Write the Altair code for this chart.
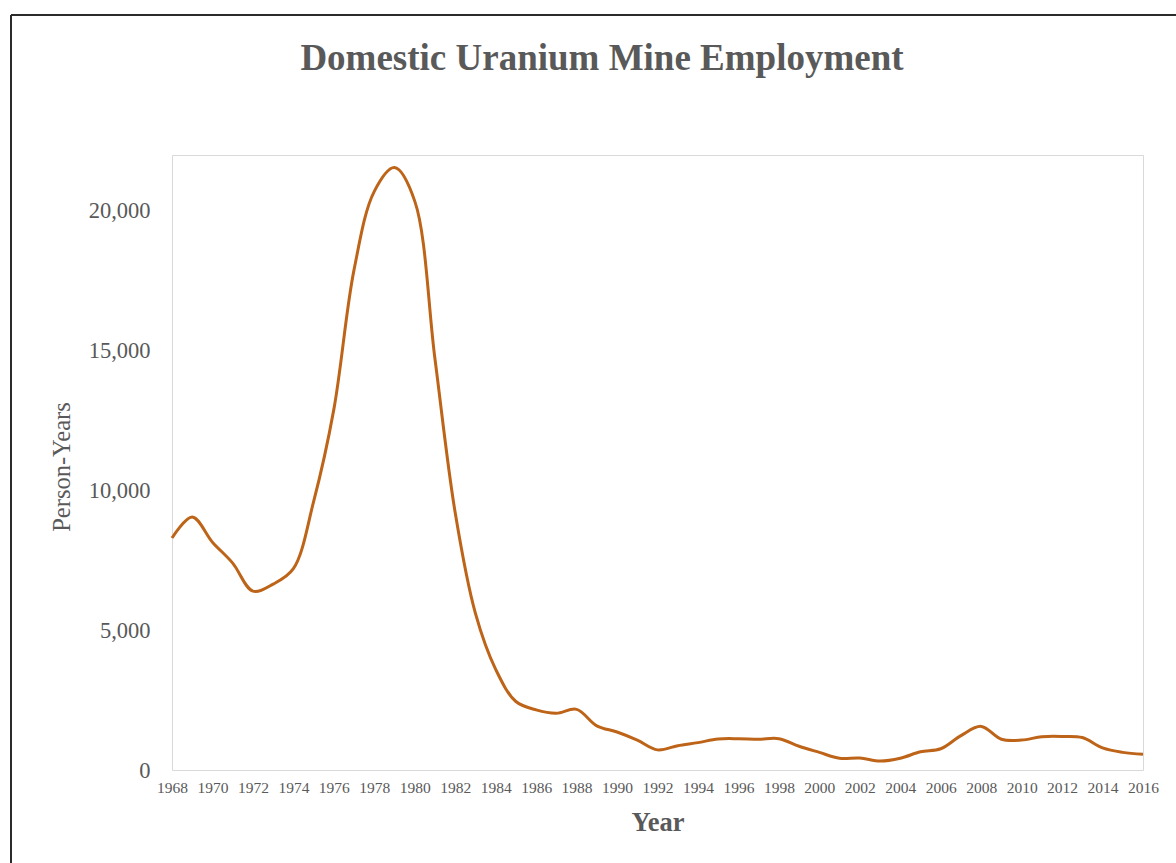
import altair as alt
import pandas as pd

# Domestic uranium mine employment, person-years per year
years = list(range(1968, 2017))
person_years = [
    8300, 9050, 8150, 7400, 6400, 6650, 7200, 9600, 12900, 17900,
    20700, 21550, 20350, 14700, 9200, 5600, 3600, 2450, 2150, 2030,
    2170, 1580, 1360, 1070, 720, 870, 980, 1110, 1120, 1100,
    1120, 850, 630, 420, 430, 320, 420, 650, 760, 1230,
    1560, 1100, 1070, 1190, 1200, 1160, 790, 630, 560,
]
x_ticks = list(range(1968, 2017, 2))
y_ticks = [0, 5000, 10000, 15000, 20000]
chart_title = "Domestic Uranium Mine Employment"

df = pd.DataFrame({"Year": years, "Employment": person_years})

SERIF = "Liberation Serif"
GREY = "#595959"

PLOT_W, PLOT_H = 971, 615
PAD_L, PAD_T = 172, 155

line = alt.Chart(df).mark_line(
    color="#bd6418", strokeWidth=3, interpolate="catmull-rom"
).encode(
    x=alt.X(
        "Year:Q",
        scale=alt.Scale(domain=[1968, 2016], nice=False, zero=False),
        axis=alt.Axis(
            values=x_ticks, format="d", title="Year",
            labelFont=SERIF, labelFontSize=15.5, labelColor=GREY,
            labelPadding=10, labelFlush=False, ticks=False, domain=False, grid=False,
            titleFont=SERIF, titleFontSize=26.5, titleFontWeight="bold", titleColor=GREY,
            titleX=PLOT_W / 2, titleY=52, titleBaseline="middle",
        ),
    ),
    y=alt.Y(
        "Employment:Q",
        scale=alt.Scale(domain=[0, 22000], nice=False),
        axis=alt.Axis(
            values=y_ticks, format=",d", title="Person-Years",
            labelFont=SERIF, labelFontSize=22.5, labelColor=GREY,
            labelPadding=22, ticks=False, domain=False, grid=False,
            titleFont=SERIF, titleFontSize=24.5, titleFontWeight="normal", titleColor=GREY,
            titleX=-110, titleY=PLOT_H / 2 + 4, titleAlign="center", titleBaseline="middle",
            titleAngle=270,
        ),
    ),
)

single = pd.DataFrame({"label": [chart_title]})

# Chart heading, placed above the plot area
heading = alt.Chart(single).mark_text(
    font=SERIF, fontSize=37, fontWeight="bold", color=GREY,
    align="center", baseline="alphabetic",
).encode(
    text="label:N", x=alt.value(602 - PAD_L), y=alt.value(70 - PAD_T)
)

# Outer frame around the figure (top and left edges)
frame_top = alt.Chart(single).mark_rule(color="#2b2b2b", strokeWidth=2).encode(
    x=alt.value(11 - PAD_L), x2=alt.value(1176 - PAD_L), y=alt.value(15 - PAD_T)
)
frame_left = alt.Chart(single).mark_rule(color="#2b2b2b", strokeWidth=2).encode(
    x=alt.value(11 - PAD_L), y=alt.value(15 - PAD_T), y2=alt.value(863 - PAD_T)
)

chart = alt.layer(line, heading, frame_top, frame_left).properties(
    width=PLOT_W,
    height=PLOT_H,
    autosize=alt.AutoSizeParams(type="none"),
    padding={"left": PAD_L, "top": PAD_T, "right": 1176 - PAD_L - PLOT_W, "bottom": 863 - PAD_T - PLOT_H},
    background="white",
).configure_view(stroke="#d9d9d9", strokeWidth=1)

chart.save("out.html", embed_options={"renderer": "svg", "actions": False})
